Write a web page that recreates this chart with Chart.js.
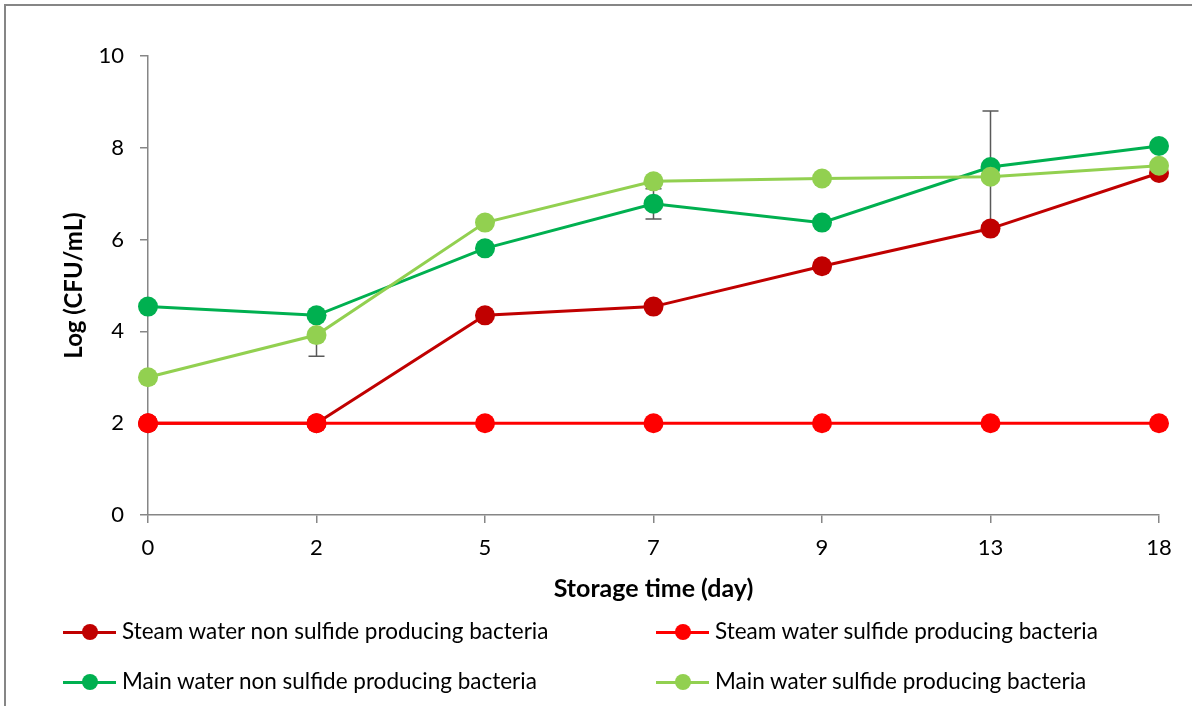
<!DOCTYPE html>
<html>
<head>
<meta charset="utf-8">
<script src="https://cdn.jsdelivr.net/npm/chart.js@4"></script>
<style>
  html, body { margin: 0; padding: 0; background: #fff; }
  #wrap { position: relative; width: 1192px; height: 706px; overflow: hidden; }
  #frame { position: absolute; left: 4px; top: 4px; width: 1300px; height: 800px; border: 2px solid #868686; box-sizing: border-box; pointer-events: none; }
  #myChart { position: absolute; left: 0; top: 0; }
  .leg { position: absolute; font-family: Lato, 'Open Sans', sans-serif; font-size: 22.5px; line-height: 26px; color: #000; white-space: nowrap; }
  .sw { position: absolute; height: 3px; width: 53px; }
  .dot { position: absolute; width: 16px; height: 16px; border-radius: 50%; }
</style>
</head>
<body>
<div id="wrap">
  <canvas id="myChart" width="1192" height="706"></canvas>
  <div id="frame"></div>
  <div id="legend"></div>
</div>
<script>
// datos
const dias = ['0', '2', '5', '7', '9', '13', '18'];
const steamNoSulfuro = [2, 2, 4.35, 4.54, 5.42, 6.24, 7.45];
const steamSulfuro = [2, 2, 2, 2, 2, 2, 2];
const mainNoSulfuro = [4.54, 4.35, 5.81, 6.78, 6.37, 7.58, 8.04];
const mainSulfuro = [3.0, 3.92, 6.37, 7.27, 7.33, 7.37, 7.61];
// barras de error (solo las visibles)
const errMainNoSulfuro = [0, 0, 0, 0.33, 0, 1.22, 0];
const errMainSulfuro = [0, 0.46, 0, 0, 0, 0, 0];
const yTicks = [0, 2, 4, 6, 8, 10];

const nombres = [
  'Steam water non sulfide producing bacteria',
  'Steam water sulfide producing bacteria',
  'Main water non sulfide producing bacteria',
  'Main water sulfide producing bacteria'
];
const colores = ['#C00000', '#FF0000', '#00B050', '#92D050'];
const series = [steamNoSulfuro, steamSulfuro, mainNoSulfuro, mainSulfuro];
const errores = [null, null, errMainNoSulfuro, errMainSulfuro];

const fuente = "Lato, 'Open Sans', sans-serif";

// Plugin para dibujar las barras de error debajo de las lineas
const errorBars = {
  id: 'errorBars',
  beforeDatasetsDraw(chart) {
    const ctx = chart.ctx;
    const y = chart.scales.y;
    ctx.save();
    ctx.strokeStyle = '#595959';
    ctx.lineWidth = 1.5;
    errores.forEach((errs, di) => {
      if (!errs) return;
      const meta = chart.getDatasetMeta(di);
      errs.forEach((e, i) => {
        if (!e) return;
        const px = meta.data[i].x;
        const v = series[di][i];
        const top = y.getPixelForValue(v + e);
        const bot = y.getPixelForValue(v - e);
        ctx.beginPath();
        ctx.moveTo(px, top); ctx.lineTo(px, bot);
        ctx.moveTo(px - 8, top); ctx.lineTo(px + 8, top);
        ctx.moveTo(px - 8, bot); ctx.lineTo(px + 8, bot);
        ctx.stroke();
      });
    });
    ctx.restore();
  }
};

const ctx = document.getElementById('myChart').getContext('2d');
window.chart = new Chart(ctx, {
  type: 'line',
  data: {
    labels: dias,
    datasets: series.map((d, i) => ({
      label: nombres[i],
      data: d,
      borderColor: colores[i],
      backgroundColor: colores[i],
      pointBackgroundColor: colores[i],
      pointBorderColor: colores[i],
      pointRadius: 10,
      pointBorderWidth: 0,
      borderWidth: 3,
      tension: 0,
      order: 4 - i
    }))
  },
  options: {
    responsive: false,
    animation: false,
    layout: { padding: { top: 56, right: 33, bottom: 0, left: 0 } },
    plugins: { legend: { display: false }, tooltip: { enabled: false } },
    scales: {
      x: {
        offset: false,
        afterFit(s) { s.height = 191; },
        grid: { drawOnChartArea: false, drawTicks: true, tickLength: 8, color: '#868686', lineWidth: 1.5 },
        border: { color: '#868686', width: 1.5 },
        ticks: { color: '#000', font: { family: fuente, size: 22 }, padding: 12, maxRotation: 0 },
        title: { display: true, text: 'Storage time (day)', color: '#000',
          font: { family: fuente, size: 25, weight: 'bold' }, padding: { top: 0, bottom: 102 } }
      },
      y: {
        min: 0, max: 10,
        afterFit(s) { s.width = 148; },
        afterBuildTicks(s) { s.ticks = yTicks.map(v => ({ value: v })); },
        grid: { drawOnChartArea: false, drawTicks: true, tickLength: 8, color: '#868686', lineWidth: 1.5 },
        border: { color: '#868686', width: 1.5 },
        ticks: { color: '#000', font: { family: fuente, size: 22 }, padding: 16 },
        title: { display: true, text: 'Log (CFU/mL)', color: '#000',
          font: { family: fuente, size: 24, weight: 'bold' }, padding: { top: 60, bottom: 0 } }
      }
    }
  },
  plugins: [errorBars]
});

// Leyenda en dos columnas
const posLeyenda = [
  { x: 63, y: 632 }, { x: 656, y: 632 },
  { x: 63, y: 682 }, { x: 656, y: 682 }
];
const legend = document.getElementById('legend');
nombres.forEach((n, i) => {
  const p = posLeyenda[i];
  const sw = document.createElement('div');
  sw.className = 'sw';
  sw.style.left = p.x + 'px'; sw.style.top = (p.y - 1.5) + 'px';
  sw.style.background = colores[i];
  legend.appendChild(sw);
  const dot = document.createElement('div');
  dot.className = 'dot';
  dot.style.left = (p.x + 18.5) + 'px'; dot.style.top = (p.y - 8) + 'px';
  dot.style.background = colores[i];
  legend.appendChild(dot);
  const t = document.createElement('div');
  t.className = 'leg';
  t.textContent = n;
  t.style.left = (p.x + 59) + 'px'; t.style.top = (p.y - 14) + 'px';
  legend.appendChild(t);
});
</script>
</body>
</html>
